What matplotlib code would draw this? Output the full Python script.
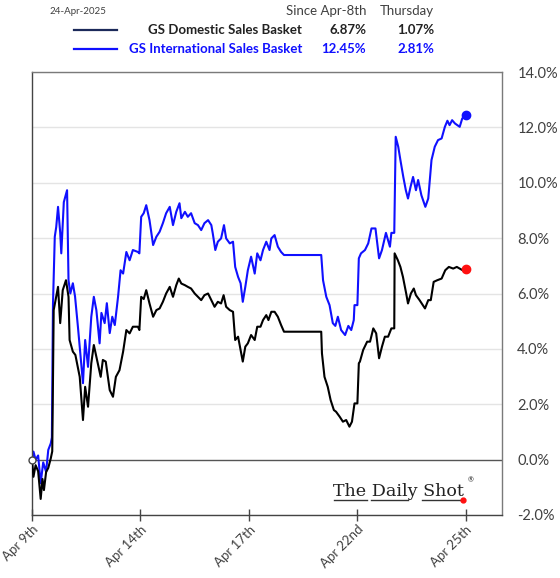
import matplotlib
matplotlib.use("Agg")
import matplotlib.pyplot as plt
from matplotlib.lines import Line2D

# ---------------- data (x = trading days since Apr 9 open, y = % since Apr-8th) ----------------
intl_t = [0, 0.04, 0.10, 0.17, 0.24, 0.31, 0.39, 0.45, 0.52, 0.55, 0.58, 0.63, 0.67, 0.72, 0.78, 0.81,
          0.88, 0.97, 1.01, 1.06, 1.13, 1.19, 1.27, 1.41, 1.47, 1.55, 1.64, 1.71, 1.78, 1.87, 1.92,
          2.01, 2.07, 2.15, 2.22, 2.29, 2.38, 2.45, 2.52, 2.61, 2.70, 2.79, 2.93, 2.97, 3.02, 3.09,
          3.16, 3.25, 3.35, 3.44, 3.53, 3.62, 3.71, 3.81, 3.90, 3.99, 4.08, 4.13, 4.23, 4.31, 4.40,
          4.50, 4.59, 4.68, 4.77, 4.87, 4.96, 5.00, 5.07, 5.14, 5.23, 5.31, 5.37, 5.47, 5.56, 5.62,
          5.70, 5.77, 5.83, 5.90, 5.97, 6.06, 6.16, 6.23, 6.32, 6.39, 6.48, 6.57, 6.62, 6.71, 6.80,
          6.89, 6.97, 8.00, 8.05, 8.14, 8.23, 8.32, 8.39, 8.46, 8.55, 8.66, 8.75, 8.83, 8.90, 8.92,
          9.00, 9.04, 9.10, 9.21, 9.30, 9.39, 9.50, 9.60, 9.68, 9.79, 9.90, 9.94, 10.02, 10.06,
          10.13, 10.19, 10.27, 10.34, 10.40, 10.47, 10.54, 10.62, 10.68, 10.77, 10.88, 10.96, 11.05,
          11.14, 11.23, 11.33, 11.42, 11.49, 11.55, 11.62, 11.70, 11.83, 11.90, 12.00]
intl_v = [0.0, 0.29, 0.0, 0.15, -0.85, -0.1, -0.44, 0.35, 0.59, 0.8, 5.6, 8.05, 8.4, 9.13, 8.2, 7.45,
          9.3, 9.73, 6.48, 6.0, 6.37, 5.9, 4.8, 2.76, 4.32, 3.35, 5.16, 5.88, 5.4, 4.2, 5.3,
          4.93, 5.65, 4.57, 5.16, 4.86, 5.88, 6.84, 6.72, 7.5, 7.2, 7.57, 7.5, 7.45, 8.77, 8.9,
          9.19, 8.65, 7.75, 8.05, 8.23, 8.54, 8.9, 9.13, 8.47, 8.95, 9.26, 8.72, 8.95, 8.77, 8.9,
          8.54, 8.47, 8.29, 8.54, 8.65, 8.47, 8.17, 7.57, 7.87, 7.99, 8.47, 7.99, 7.81, 7.87, 6.96,
          6.6, 6.37, 5.7, 6.24, 6.84, 7.33, 6.72, 7.45, 7.2, 7.57, 7.87, 7.57, 7.99, 8.11, 7.69,
          7.5, 7.39, 7.39, 6.48, 5.88, 5.58, 4.93, 4.83, 5.16, 4.68, 4.5, 4.83, 4.68, 5.04, 5.58,
          5.58, 7.27, 7.45, 7.57, 7.81, 8.35, 8.35, 7.27, 7.57, 8.19, 7.69, 8.19, 8.19, 11.66,
          11.3, 10.82, 10.21, 9.73, 9.43, 9.85, 10.21, 9.73, 10.1, 9.55, 9.13, 9.43, 10.82,
          11.3, 11.54, 11.6, 12.02, 12.24, 12.08, 12.26, 12.14, 12.02, 12.32, 12.45]

dom_t = [0, 0.04, 0.10, 0.17, 0.24, 0.29, 0.33, 0.39, 0.45, 0.52, 0.56, 0.60, 0.67, 0.72, 0.78, 0.85,
         0.94, 1.01, 1.04, 1.13, 1.20, 1.32, 1.41, 1.47, 1.55, 1.64, 1.71, 1.80, 1.90, 1.96, 2.04,
         2.15, 2.24, 2.32, 2.42, 2.52, 2.61, 2.70, 2.79, 2.93, 2.97, 3.02, 3.09, 3.16, 3.25, 3.35,
         3.44, 3.53, 3.62, 3.71, 3.81, 3.90, 3.99, 4.06, 4.13, 4.23, 4.31, 4.40, 4.50, 4.59, 4.68,
         4.77, 4.87, 4.96, 5.05, 5.14, 5.23, 5.30, 5.37, 5.47, 5.56, 5.62, 5.70, 5.77, 5.83, 5.90,
         5.97, 6.06, 6.16, 6.23, 6.32, 6.39, 6.48, 6.54, 6.62, 6.71, 6.80, 6.89, 6.97, 8.00, 8.02,
         8.09, 8.18, 8.26, 8.35, 8.41, 8.51, 8.60, 8.69, 8.78, 8.85, 8.92, 9.00, 9.04, 9.07, 9.16,
         9.27, 9.35, 9.44, 9.52, 9.60, 9.68, 9.76, 9.85, 9.94, 10.02, 10.03, 10.12, 10.19, 10.26,
         10.35, 10.40, 10.48, 10.56, 10.62, 10.72, 10.81, 10.87, 10.96, 11.03, 11.11, 11.21, 11.33,
         11.43, 11.53, 11.65, 11.75, 11.83, 11.91, 12.00]
dom_v = [0.0, -0.62, -0.2, -0.42, -1.42, -0.7, -1.1, -0.45, -0.3, 0.05, 0.3, 5.4, 5.88, 6.24, 4.93, 6.12,
         6.48, 5.88, 4.32, 3.9, 3.78, 2.99, 1.43, 2.63, 1.91, 3.48, 4.14, 3.6, 2.99, 3.6, 3.54,
         2.51, 2.27, 2.99, 3.23, 3.9, 4.68, 4.56, 4.8, 4.8, 4.68, 5.88, 5.8, 6.12, 5.64, 5.16,
         5.4, 5.46, 5.7, 6.0, 6.24, 5.88, 6.3, 6.54, 6.36, 6.3, 6.24, 6.18, 6.0, 5.88, 5.76,
         5.94, 6.0, 5.76, 5.52, 5.7, 5.64, 5.94, 5.52, 5.4, 5.34, 4.32, 4.44, 3.96, 3.54, 4.08,
         4.2, 4.5, 4.32, 4.8, 4.8, 5.04, 5.22, 5.04, 5.34, 5.34, 5.16, 4.86, 4.62, 4.62, 3.84,
         2.99, 2.63, 2.15, 1.79, 1.73, 1.55, 1.37, 1.43, 1.19, 1.37, 2.03, 2.03, 3.48, 3.54, 3.96,
         4.26, 4.26, 4.74, 4.56, 3.66, 4.08, 4.44, 4.44, 4.74, 4.74, 7.45, 7.2, 6.96, 6.6,
         6.0, 5.64, 6.0, 6.18, 5.94, 5.76, 5.58, 5.46, 5.76, 5.76, 6.42, 6.48, 6.54,
         6.84, 6.96, 6.9, 6.96, 6.9, 6.84, 6.87]

tick_pos = [0, 3, 6, 9, 12]
tick_labels = ["Apr 9th", "Apr 14th", "Apr 17th", "Apr 22nd", "Apr 25th"]
y_ticks = [-2, 0, 2, 4, 6, 8, 10, 12, 14]

series_names = ["GS Domestic Sales Basket", "GS International Sales Basket"]
since_vals = ["6.87%", "12.45%"]
thursday_vals = ["1.07%", "2.81%"]
date_label = "24-Apr-2025"

BLUE = "#1010ff"
BLACK = "#000000"
FONT = ["Lato", "DejaVu Sans"]
plt.rcParams["font.family"] = FONT

fig = plt.figure(figsize=(5.6, 5.78), dpi=100)
W, H = 560, 578
ax = fig.add_axes([32 / W, 1 - 515 / H, (502 - 32) / W, (515 - 72) / H])

ax.set_xlim(0, 13)
ax.set_ylim(-2, 14)
for yv in y_ticks:
    if yv != 0:
        ax.axhline(yv, color="#e4e4e4", lw=1.0, zorder=0)
ax.axhline(0, color="#555555", lw=1.0, zorder=1)

ax.plot(dom_t, dom_v, color=BLACK, lw=1.5, zorder=3)
ax.plot(intl_t, intl_v, color=BLUE, lw=1.5, zorder=2)
ax.plot([dom_t[-1]], [dom_v[-1]], "o", color="#ff1010", ms=6, zorder=4)
ax.plot([intl_t[-1]], [intl_v[-1]], "o", color=BLUE, ms=6, zorder=4)
ax.plot([0], [0], "o", mfc="white", mec="#444444", ms=5, zorder=5, clip_on=False)

for s in ax.spines.values():
    s.set_color("#7a7a7a")
    s.set_linewidth(1.0)
ax.spines["left"].set_color("#444444")
ax.spines["bottom"].set_color("#444444")

ax.set_xticks(tick_pos)
ax.set_xticklabels(tick_labels, rotation=45, ha="right", va="top", rotation_mode="anchor",
                   fontsize=9.5, color="#404040")
ax.tick_params(axis="x", direction="inout", length=8, width=1, color="#444444", pad=2)

ax.set_yticks(y_ticks)
ax.set_yticklabels([f"{v:.1f}%" for v in y_ticks], fontsize=10.5, color="#404040")
ax.yaxis.tick_right()
ax.tick_params(axis="y", length=0, pad=11)

# watermark "The Daily Shot"
ax.text(0.640, 0.054, "The Daily Shot", transform=ax.transAxes, family="DejaVu Serif",
        fontsize=12.6, color="#222222", ha="left", va="center")
ax.text(0.926, 0.080, "®", transform=ax.transAxes, fontsize=5, color="#222222",
        ha="left", va="center")
for x0, x1 in [(0.642, 0.712), (0.722, 0.800), (0.830, 0.912)]:
    ax.add_line(Line2D([x0, x1], [0.034, 0.034], transform=ax.transAxes, color="#333333",
                       lw=1.0))
ax.plot([0.917], [0.034], "o", color="#ff1010", ms=3.5, transform=ax.transAxes, clip_on=False)

# header
def fx(px):
    return px / W

def fy(py):
    return 1 - py / H

fig.text(fx(78), fy(11), date_label, fontsize=7, color="#404040", ha="center", va="center")
fig.text(fx(366), fy(11), "Since Apr-8th", fontsize=9.5, color="#404040", ha="right", va="center")
fig.text(fx(434), fy(11), "Thursday", fontsize=9.5, color="#404040", ha="right", va="center")

rows_y = [30, 49]
row_colors = ["#222222", BLUE]
line_colors = ["#1c2a5a", BLUE]
for i in range(2):
    y = fy(rows_y[i])
    fig.add_artist(Line2D([fx(74), fx(117)], [y, y], color=line_colors[i], lw=1.6))
    fig.text(fx(302), y, series_names[i], fontsize=9.5, fontweight="bold", color=row_colors[i],
             ha="right", va="center")
    fig.text(fx(366), y, since_vals[i], fontsize=9.5, fontweight="bold", color=row_colors[i],
             ha="right", va="center")
    fig.text(fx(434), y, thursday_vals[i], fontsize=9.5, fontweight="bold", color=row_colors[i],
             ha="right", va="center")

fig.savefig("out.png", dpi=100)
